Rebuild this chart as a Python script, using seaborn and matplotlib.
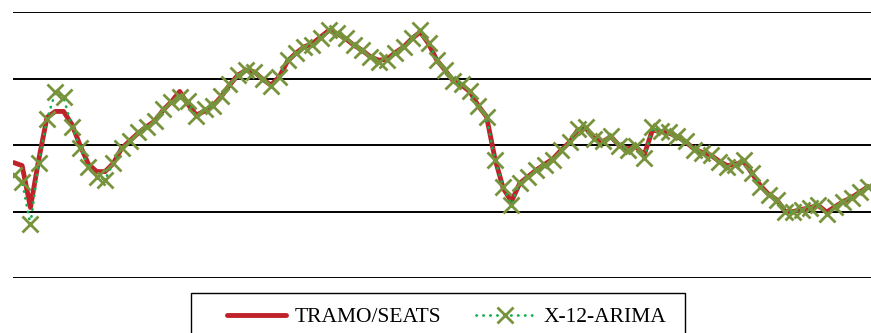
import numpy as np
import pandas as pd
import matplotlib
matplotlib.use("Agg")
import matplotlib.pyplot as plt
from matplotlib.patches import Rectangle
import seaborn as sns

# series (gridlines at -2, 0, 2, 4, 6)
x12_arima = [1.11, 0.90, -0.39, 1.47, 2.77, 3.58, 3.43, 2.53, 1.92, 1.35,
             1.05, 0.96, 1.47, 1.92, 2.11, 2.38, 2.53, 2.71, 3.07, 3.28,
             3.43, 3.31, 2.86, 3.07, 3.16, 3.46, 3.82, 4.12, 4.27, 4.21,
             3.97, 3.76, 4.06, 4.57, 4.78, 4.96, 5.02, 5.23, 5.47, 5.38,
             5.23, 5.02, 4.87, 4.66, 4.51, 4.57, 4.78, 4.96, 5.23, 5.47,
             5.08, 4.57, 4.27, 3.91, 3.82, 3.61, 3.16, 2.83, 1.56, 0.75,
             0.21, 0.87, 1.05, 1.26, 1.41, 1.56, 1.86, 2.08, 2.47, 2.53,
             2.17, 2.11, 2.26, 1.96, 1.86, 1.96, 1.62, 2.53, 2.41, 2.38,
             2.26, 2.11, 1.86, 1.77, 1.71, 1.50, 1.35, 1.41, 1.56, 1.17,
             0.75, 0.51, 0.36, -0.03, -0.03, 0.06, 0.12, 0.21, -0.09, 0.15,
             0.30, 0.42, 0.60, 0.75]

tramo_seats = [1.47, 1.38, 0.12, 1.56, 2.83, 3.01, 3.01, 2.62, 1.98, 1.42,
               1.20, 1.20, 1.45, 1.90, 2.13, 2.36, 2.55, 2.72, 3.05, 3.30,
               3.61, 3.22, 2.90, 3.02, 3.18, 3.45, 3.80, 4.10, 4.25, 4.20,
               3.98, 3.80, 4.05, 4.52, 4.76, 4.95, 5.05, 5.25, 5.45, 5.35,
               5.20, 5.00, 4.85, 4.65, 4.55, 4.58, 4.78, 4.95, 5.20, 5.40,
               5.05, 4.55, 4.25, 3.92, 3.80, 3.60, 3.18, 2.85, 1.60, 0.70,
               0.30, 0.85, 1.05, 1.25, 1.42, 1.58, 1.85, 2.08, 2.45, 2.50,
               2.20, 2.10, 2.25, 1.98, 1.88, 1.95, 1.70, 2.45, 2.40, 2.36,
               2.25, 2.10, 1.88, 1.78, 1.70, 1.52, 1.38, 1.42, 1.50, 1.15,
               0.78, 0.52, 0.35, 0.00, 0.00, 0.06, 0.12, 0.18, -0.02, 0.14,
               0.30, 0.42, 0.58, 0.75]

series_names = ["TRAMO/SEATS", "X-12-ARIMA"]
grid_values = [-2, 0, 2, 4, 6]

t = np.arange(len(x12_arima))
df = pd.DataFrame({"t": t, "tramo": tramo_seats, "x12": x12_arima})

sns.set_style("white")
plt.rcParams["text.color"] = "black"

fig = plt.figure(figsize=(8.71, 3.33), dpi=100)
ax = fig.add_axes([13 / 871, 55 / 333, 858 / 871, 266 / 333])

# horizontal gridlines
for g in grid_values:
    ax.axhline(g, color="black", lw=1.4, zorder=0)

sns.lineplot(data=df, x="t", y="tramo", ax=ax, color="#C0222A", lw=3.5,
             label=series_names[0], solid_capstyle="round", zorder=2)
sns.lineplot(data=df, x="t", y="x12", ax=ax, color="#12B04A", lw=2.0,
             linestyle=(0, (0.1, 2.4)), dash_capstyle="round",
             marker="x", markersize=11, markeredgewidth=2.0,
             markeredgecolor="#77933C", label=series_names[1], zorder=3)

ax.set_xlim(-0.1, len(t) - 1 + 0.35)
ax.set_ylim(-2, 6)
ax.set_xlabel("")
ax.set_ylabel("")
ax.set_xticks([])
ax.set_yticks([])
for s in ax.spines.values():
    s.set_visible(False)

# legend box (runs off the bottom of the image)
fig.patches.append(Rectangle((191 / 871, -10 / 333), 494 / 871, 50 / 333,
                             transform=fig.transFigure, fill=False,
                             edgecolor="black", lw=1.0))
handles = ax.get_lines()[-2:]
leg = ax.legend(handles, series_names, ncol=2, frameon=False,
                loc="center left", bbox_to_anchor=(227 / 871, 1 - 317 / 333),
                bbox_transform=fig.transFigure, borderpad=0, borderaxespad=0,
                handlelength=2.75, handletextpad=0.4, columnspacing=1.6,
                prop={"family": "Liberation Serif", "size": 15.5})
for txt in leg.get_texts():
    txt.set_color("black")

fig.savefig("out.png", dpi=100)
